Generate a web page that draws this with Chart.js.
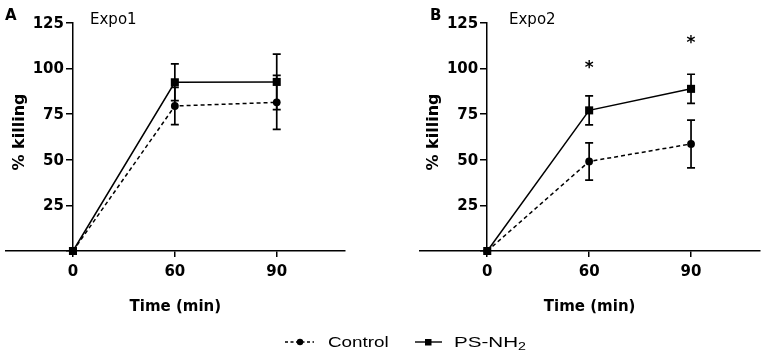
<!DOCTYPE html>
<html>
<head>
<meta charset="utf-8">
<script src="https://cdn.jsdelivr.net/npm/chart.js@4.4.1/dist/chart.umd.min.js"></script>
<style>
  html, body { margin: 0; padding: 0; background: #fff; }
  #wrap { position: relative; width: 765px; height: 353px; overflow: hidden; font-family: "DejaVu Sans", sans-serif; color: #000; }
  canvas { position: absolute; top: 0; }
  .lbl { position: absolute; white-space: nowrap; line-height: 1; }
  .letter { font-weight: bold; font-size: 15px; }
  .sub { font-size: 15px; }
  .leg { font-family: "Liberation Sans", Arial, sans-serif; font-size: 14.5px; transform: scaleX(1.3); transform-origin: 0 50%; }
  .leg sub { font-size: 10px; vertical-align: -3px; line-height: 0; }
  svg { position: absolute; }
</style>
</head>
<body>
<div id="wrap">
  <canvas id="cA" width="382" height="353" style="left:0"></canvas>
  <canvas id="cB" width="382" height="353" style="left:383px"></canvas>

  <div class="lbl letter" style="left:5px; top:8px;">A</div>
  <div class="lbl sub" style="left:90px; top:12px;">Expo1</div>
  <div class="lbl letter" style="left:430px; top:8px;">B</div>
  <div class="lbl sub" style="left:509px; top:12px;">Expo2</div>

  <svg style="left:283px; top:334px;" width="34" height="16">
    <line x1="2" y1="8" x2="31" y2="8" stroke="#000" stroke-width="1.4" stroke-dasharray="3 2.5"/>
    <circle cx="17" cy="8" r="3.2" fill="#000"/>
  </svg>
  <div class="lbl leg" style="left:328px; top:335px;">Control</div>
  <svg style="left:413px; top:334px;" width="32" height="16">
    <line x1="2" y1="8" x2="29" y2="8" stroke="#000" stroke-width="1.4"/>
    <rect x="12" y="5" width="6.5" height="6.5" fill="#000"/>
  </svg>
  <div class="lbl leg" style="left:454px; top:335px; transform: scaleX(1.42);">PS-NH<sub>2</sub></div>
</div>

<script>
// ---- data ----
const timeLabels = ['0', '60', '90'];
const timeIndex = [0, 1, 2];
const yTicks = [0, 25, 50, 75, 100, 125];

const controlA    = [0, 79.5, 81.5];
const controlAErr = [0, 10.2, 14.8];
const psA         = [0, 92.5, 92.7];
const psAErr      = [0, 10.1, 15.2];

const controlB    = [0, 49.1, 58.7];
const controlBErr = [0, 10.2, 13.1];
const psB         = [0, 77.1, 88.9];
const psBErr      = [0, 8.0, 8.0];

const starsA = [null, null, null];
const starsB = [null, 100.3, 114.0];

// ---- helpers ----
const FONT = '"DejaVu Sans", sans-serif';

const errorBarPlugin = {
  id: 'errorBars',
  afterDatasetsDraw(chart) {
    const { ctx, scales: { x, y } } = chart;
    chart.data.datasets.forEach((ds) => {
      if (!ds.errors) return;
      ds.data.forEach((pt, j) => {
        const e = ds.errors[j];
        if (!e) return;
        const px = x.getPixelForValue(pt.x);
        const top = y.getPixelForValue(pt.y + e);
        const bot = y.getPixelForValue(pt.y - e);
        ctx.save();
        ctx.strokeStyle = '#000';
        ctx.lineWidth = 1.7;
        ctx.beginPath();
        ctx.moveTo(px, top); ctx.lineTo(px, bot);
        ctx.moveTo(px - 4, top); ctx.lineTo(px + 4, top);
        ctx.moveTo(px - 4, bot); ctx.lineTo(px + 4, bot);
        ctx.stroke();
        ctx.restore();
      });
    });
  }
};

const extrasPlugin = {
  id: 'extras',
  afterDraw(chart, args, opts) {
    const { ctx, chartArea, scales: { x, y } } = chart;
    const ax = x.getPixelForValue(0);
    // y tick labels (left of the axis, right-aligned)
    ctx.save();
    ctx.font = 'bold 15px ' + FONT;
    ctx.fillStyle = '#000';
    ctx.textAlign = 'right';
    ctx.textBaseline = 'middle';
    yTicks.forEach((v) => {
      if (v === 0) return;
      ctx.fillText(String(v), ax - 9, y.getPixelForValue(v) + 1);
    });
    ctx.restore();
    // y-axis title
    ctx.save();
    ctx.translate(ax - 53, (chartArea.top + chartArea.bottom) / 2 - 5);
    ctx.rotate(-Math.PI / 2);
    ctx.font = 'bold 16px ' + FONT;
    ctx.fillStyle = '#000';
    ctx.textAlign = 'center';
    ctx.textBaseline = 'middle';
    ctx.fillText('% killing', 0, 0);
    ctx.restore();
    // significance stars
    ctx.save();
    ctx.font = 'bold 17px ' + FONT;
    ctx.fillStyle = '#000';
    ctx.textAlign = 'center';
    ctx.textBaseline = 'middle';
    (opts.stars || []).forEach((v, j) => {
      if (v === null) return;
      ctx.fillText('*', x.getPixelForValue(timeIndex[j]), y.getPixelForValue(v) + 1);
    });
    ctx.restore();
  }
};

function makeChart(id, ctrl, ctrlErr, ps, psErr, stars, padL, padR) {
  return new Chart(document.getElementById(id), {
    type: 'line',
    data: {
      datasets: [
        {
          label: 'Control',
          data: timeIndex.map((t, i) => ({ x: t, y: ctrl[i] })),
          errors: ctrlErr,
          borderColor: '#000',
          backgroundColor: '#000',
          borderWidth: 1.5,
          borderDash: [4, 3],
          pointStyle: 'circle',
          pointRadius: 3.9,
          pointBorderWidth: 0,
          pointBackgroundColor: '#000',
          clip: false
        },
        {
          label: 'PS-NH2',
          data: timeIndex.map((t, i) => ({ x: t, y: ps[i] })),
          errors: psErr,
          borderColor: '#000',
          backgroundColor: '#000',
          borderWidth: 1.5,
          pointStyle: 'rect',
          pointRadius: 5.7,
          pointBorderWidth: 0,
          pointBackgroundColor: '#000',
          clip: false
        }
      ]
    },
    options: {
      responsive: false,
      animation: false,
      layout: { padding: { left: padL, right: padR, top: 23, bottom: 37 } },
      plugins: {
        legend: { display: false },
        tooltip: { enabled: false },
        extras: { stars: stars }
      },
      scales: {
        x: {
          type: 'linear',
          position: 'bottom',
          min: -0.66,
          max: 2.67,
          afterBuildTicks: (s) => { s.ticks = timeIndex.map(v => ({ value: v })); },
          ticks: {
            callback: (v) => timeLabels[v],
            color: '#000',
            font: { family: FONT, size: 15, weight: 'bold' },
            padding: 6,
            maxRotation: 0,
            autoSkip: false
          },
          grid: { drawOnChartArea: false, color: '#000', lineWidth: 1.5, tickLength: 6 },
          border: { color: '#000', width: 1.5 },
          title: {
            display: true,
            text: 'Time (min)',
            color: '#000',
            font: { family: FONT, size: 15, weight: 'bold' },
            padding: { top: 11, bottom: 0 }
          }
        },
        y: {
          type: 'linear',
          position: { x: 0 },
          min: 0,
          max: 125,
          afterBuildTicks: (s) => { s.ticks = yTicks.map(v => ({ value: v })); },
          afterFit: (s) => { s.width = 0; },
          ticks: {
            display: false,
            autoSkip: false
          },
          grid: { drawOnChartArea: false, color: '#000', lineWidth: 1.5, tickLength: 6 },
          border: { color: '#000', width: 1.5 }
        }
      }
    },
    plugins: [errorBarPlugin, extrasPlugin]
  });
}

makeChart('cA', controlA, controlAErr, psA, psAErr, starsA, 2, 37);
makeChart('cB', controlB, controlBErr, psB, psBErr, starsB, 37, 2);
</script>
</body>
</html>
